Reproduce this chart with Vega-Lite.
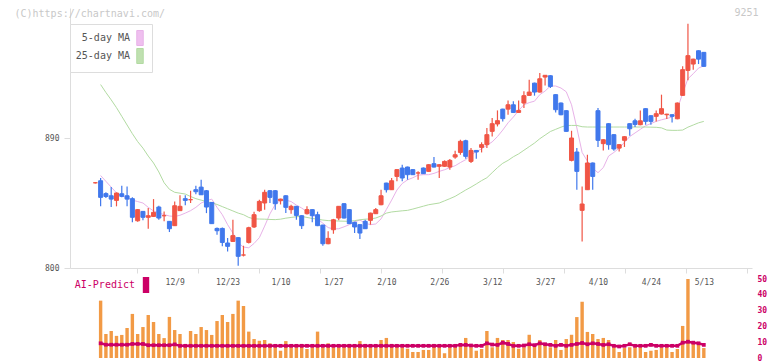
{
"$schema": "https://vega.github.io/schema/vega-lite/v6.json",
"width": 682, "height": 361,
"autosize": {"type": "none"},
"padding": {"left": 70, "top": 0, "right": 20, "bottom": 0},
"background": "#ffffff",
"config": {
  "view": {"stroke": null},
  "font": "DejaVu Sans Mono",
  "axis": {"labelFont": "DejaVu Sans Mono", "titleFont": "DejaVu Sans Mono", "grid": false},
  "legend": {"labelFont": "DejaVu Sans Mono", "titleFont": "DejaVu Sans Mono"}
},
"data": {"values": [
{"i":-1,"d":"11/18","o":859,"h":859.5,"l":858.5,"c":859},
{"i":0,"d":"11/19","o":860.4,"h":862.3,"l":842.7,"c":848.9,"ma5":864,"ma25":927,"v":36.3,"ai":9.3},
{"i":1,"d":"11/20","o":851.5,"h":852.5,"l":848.5,"c":849.5,"ma5":860,"ma25":921.5,"v":15.2,"ai":8.4},
{"i":2,"d":"11/21","o":850,"h":856.1,"l":842.2,"c":847.7,"ma5":856,"ma25":916.4,"v":17.1,"ai":8.4},
{"i":3,"d":"11/22","o":846.8,"h":852.3,"l":842.7,"c":851.9,"ma5":852,"ma25":911,"v":14,"ai":8.4},
{"i":4,"d":"11/25","o":851.4,"h":857,"l":849,"c":849.6,"ma5":850,"ma25":905,"v":14.6,"ai":8.4},
{"i":5,"d":"11/26","o":850,"h":856.5,"l":842.7,"c":847.7,"ma5":848.5,"ma25":899,"v":19,"ai":8.4},
{"i":6,"d":"11/27","o":848,"h":849,"l":831.6,"c":835.1,"ma5":847,"ma25":893,"v":27.9,"ai":8.9},
{"i":7,"d":"11/28","o":832.7,"h":840.8,"l":832,"c":840.4,"ma5":846,"ma25":887.5,"v":15.2,"ai":8.9},
{"i":8,"d":"11/29","o":839.2,"h":839.5,"l":833,"c":835.1,"ma5":845,"ma25":883,"v":19.6,"ai":8.9},
{"i":9,"d":"12/2","o":835.1,"h":841.5,"l":827.2,"c":836.2,"ma5":842,"ma25":877.5,"v":27.2,"ai":8.1},
{"i":10,"d":"12/3","o":835.7,"h":847.7,"l":835.5,"c":838.5,"ma5":839.5,"ma25":872.7,"v":22.8,"ai":8.1},
{"i":11,"d":"12/4","o":842.2,"h":843.1,"l":833.4,"c":834.6,"ma5":838,"ma25":866.5,"v":15.2,"ai":8.1},
{"i":12,"d":"12/5","o":836.2,"h":839.2,"l":832.3,"c":836.2,"ma5":837,"ma25":859,"v":12.6,"ai":8.1},
{"i":13,"d":"12/6","o":832.3,"h":832.5,"l":824.9,"c":827.2,"ma5":836,"ma25":854.5,"v":26,"ai":8.1},
{"i":14,"d":"12/9","o":829.3,"h":846.1,"l":829,"c":843.1,"ma5":835.7,"ma25":852.4,"v":17.7,"ai":8.6},
{"i":15,"d":"12/10","o":839.7,"h":850.3,"l":839.5,"c":842.7,"ma5":836.5,"ma25":851.8,"v":15.2,"ai":7.7},
{"i":16,"d":"12/11","o":848,"h":850.3,"l":843.4,"c":846.8,"ma5":838,"ma25":851.2,"v":8.9,"ai":7.7},
{"i":17,"d":"12/12","o":847.3,"h":853.5,"l":845,"c":847.3,"ma5":839.7,"ma25":849.5,"v":17.1,"ai":7.7},
{"i":18,"d":"12/13","o":854.2,"h":857,"l":851,"c":852.8,"ma5":842,"ma25":848,"v":15.2,"ai":7.7},
{"i":19,"d":"12/16","o":856,"h":861.1,"l":850.5,"c":850.7,"ma5":845,"ma25":847,"v":19.6,"ai":7.7},
{"i":20,"d":"12/17","o":853.5,"h":854,"l":838,"c":842.2,"ma5":846.5,"ma25":846,"v":17.7,"ai":7.7},
{"i":21,"d":"12/18","o":845.4,"h":845.5,"l":830.5,"c":830.7,"ma5":847.7,"ma25":845.2,"v":14.6,"ai":7.7},
{"i":22,"d":"12/19","o":827.4,"h":828,"l":823,"c":825.8,"ma5":842,"ma25":844,"v":23.4,"ai":7.7},
{"i":23,"d":"12/20","o":827.4,"h":828,"l":815,"c":817.7,"ma5":836.9,"ma25":842.5,"v":27.2,"ai":7.7},
{"i":24,"d":"12/23","o":817.3,"h":820.7,"l":811.5,"c":815,"ma5":830,"ma25":841,"v":22.8,"ai":7.7},
{"i":25,"d":"12/24","o":818.4,"h":833.4,"l":818,"c":822.4,"ma5":824.2,"ma25":839.5,"v":27.9,"ai":7.7},
{"i":26,"d":"12/25","o":821,"h":821.5,"l":801.6,"c":808.1,"ma5":817.3,"ma25":838,"v":36.3,"ai":7.7},
{"i":27,"d":"12/26","o":809,"h":815.4,"l":808,"c":809,"ma5":814.5,"ma25":836.9,"v":32.9,"ai":7.7},
{"i":28,"d":"12/27","o":817.7,"h":828.5,"l":817,"c":827.9,"ma5":814,"ma25":835,"v":16.7,"ai":7.7},
{"i":29,"d":"12/30","o":828.4,"h":838.9,"l":827.7,"c":836.9,"ma5":817,"ma25":834,"v":12,"ai":7.7},
{"i":30,"d":"1/6","o":839.7,"h":847.3,"l":839,"c":846.1,"ma5":821,"ma25":833.9,"v":10.9,"ai":7.7},
{"i":31,"d":"1/7","o":845,"h":854.2,"l":840.4,"c":852.4,"ma5":829,"ma25":833.8,"v":11.4,"ai":7.7},
{"i":32,"d":"1/8","o":853.5,"h":854,"l":845,"c":848.9,"ma5":837.5,"ma25":833.6,"v":9.3,"ai":7.7},
{"i":33,"d":"1/9","o":853.5,"h":854,"l":840.4,"c":844.5,"ma5":844,"ma25":833.5,"v":6.8,"ai":7.7},
{"i":34,"d":"1/10","o":846.6,"h":848,"l":844,"c":847.7,"ma5":846.8,"ma25":833.8,"v":4.6,"ai":7.7},
{"i":35,"d":"1/14","o":850,"h":850.3,"l":838,"c":842,"ma5":847,"ma25":834.5,"v":10.7,"ai":7.7},
{"i":36,"d":"1/15","o":840.4,"h":843.8,"l":837.6,"c":842.7,"ma5":846,"ma25":835,"v":6.8,"ai":7.7},
{"i":37,"d":"1/16","o":842.7,"h":843,"l":833.4,"c":836.4,"ma5":843.5,"ma25":835.5,"v":6.8,"ai":7.7},
{"i":38,"d":"1/17","o":836.2,"h":836.5,"l":827,"c":829.3,"ma5":841.5,"ma25":835.7,"v":8.9,"ai":7.7},
{"i":39,"d":"1/20","o":837.6,"h":842.7,"l":837,"c":840.4,"ma5":839,"ma25":835,"v":5.7,"ai":7.7},
{"i":40,"d":"1/21","o":840.4,"h":840.7,"l":831.6,"c":836.2,"ma5":837.5,"ma25":834.3,"v":6.8,"ai":7.7},
{"i":41,"d":"1/22","o":836.9,"h":839,"l":829,"c":829.3,"ma5":834,"ma25":833.8,"v":16.7,"ai":7.7},
{"i":42,"d":"1/23","o":829.7,"h":830,"l":815.4,"c":816.8,"ma5":831,"ma25":833.2,"v":6.8,"ai":7.7},
{"i":43,"d":"1/24","o":816.8,"h":825.4,"l":816.5,"c":820.5,"ma5":828,"ma25":832.8,"v":9.3,"ai":7.7},
{"i":44,"d":"1/27","o":826.5,"h":834,"l":823.7,"c":833.4,"ma5":827,"ma25":832.7,"v":6.8,"ai":7.7},
{"i":45,"d":"1/28","o":834.6,"h":843,"l":833,"c":842.7,"ma5":827.2,"ma25":832.5,"v":6.8,"ai":7.7},
{"i":46,"d":"1/29","o":844.5,"h":844.8,"l":834.3,"c":834.6,"ma5":828.5,"ma25":832.4,"v":6.8,"ai":7.7},
{"i":47,"d":"1/30","o":840.4,"h":840.7,"l":830.5,"c":830.7,"ma5":830,"ma25":832.3,"v":8.9,"ai":7.7},
{"i":48,"d":"1/31","o":831.6,"h":832,"l":824.2,"c":828.4,"ma5":832,"ma25":832.8,"v":6.8,"ai":7.7},
{"i":49,"d":"2/3","o":830,"h":830.3,"l":820,"c":824.2,"ma5":833.2,"ma25":833.4,"v":10.7,"ai":7.7},
{"i":50,"d":"2/4","o":832.3,"h":833.4,"l":827,"c":827.2,"ma5":831,"ma25":833.8,"v":8.9,"ai":7.7},
{"i":51,"d":"2/5","o":833,"h":838.3,"l":830,"c":838,"ma5":830,"ma25":834,"v":6.8,"ai":7.7},
{"i":52,"d":"2/6","o":837.6,"h":841.5,"l":837.3,"c":840.4,"ma5":830.5,"ma25":834.6,"v":6.8,"ai":7.7},
{"i":53,"d":"2/7","o":843.8,"h":854.2,"l":843.5,"c":850,"ma5":834,"ma25":836,"v":11.4,"ai":7.7},
{"i":54,"d":"2/10","o":858.8,"h":859,"l":852.3,"c":854.2,"ma5":840.5,"ma25":838,"v":12.7,"ai":7.7},
{"i":55,"d":"2/12","o":854.2,"h":862.3,"l":854,"c":860.4,"ma5":847,"ma25":838.8,"v":8.9,"ai":7.7},
{"i":56,"d":"2/13","o":863.4,"h":868.4,"l":860,"c":868.1,"ma5":854,"ma25":839.2,"v":6.8,"ai":7.7},
{"i":57,"d":"2/14","o":869.2,"h":871.5,"l":860,"c":862.3,"ma5":858.5,"ma25":839.6,"v":6.8,"ai":7.7},
{"i":58,"d":"2/17","o":869.9,"h":870.2,"l":861.1,"c":864.6,"ma5":861,"ma25":839.9,"v":5.9,"ai":7.7},
{"i":59,"d":"2/18","o":868.1,"h":868.4,"l":864.3,"c":864.6,"ma5":862.5,"ma25":840.8,"v":3.8,"ai":7.7},
{"i":60,"d":"2/19","o":865.8,"h":866.9,"l":861.1,"c":865.8,"ma5":864.3,"ma25":841.8,"v":3.8,"ai":7.7},
{"i":61,"d":"2/20","o":869.2,"h":869.5,"l":865,"c":865.3,"ma5":864.6,"ma25":842.8,"v":5.1,"ai":7.7},
{"i":62,"d":"2/21","o":866.9,"h":871.8,"l":866.6,"c":871.5,"ma5":864.6,"ma25":843.8,"v":5.1,"ai":7.7},
{"i":63,"d":"2/25","o":872.2,"h":876.8,"l":869.6,"c":869.9,"ma5":865.5,"ma25":844.4,"v":8.9,"ai":7.7},
{"i":64,"d":"2/26","o":870.4,"h":871.8,"l":862.3,"c":871.5,"ma5":866.9,"ma25":845,"v":6.8,"ai":7.7},
{"i":65,"d":"2/27","o":870.4,"h":874.5,"l":870,"c":873.8,"ma5":868,"ma25":846.5,"v":3,"ai":7.7},
{"i":66,"d":"2/28","o":869.9,"h":875.4,"l":868,"c":874.5,"ma5":869.5,"ma25":848,"v":6.8,"ai":7.7},
{"i":67,"d":"3/3","o":876.8,"h":881.2,"l":875.7,"c":878.4,"ma5":870.8,"ma25":849.6,"v":6.8,"ai":7.7},
{"i":68,"d":"3/4","o":880,"h":888.8,"l":878.4,"c":887.7,"ma5":873,"ma25":851.8,"v":9.3,"ai":8.3},
{"i":69,"d":"3/5","o":888.1,"h":888.8,"l":875.7,"c":877.3,"ma5":875,"ma25":854,"v":12.7,"ai":8.3},
{"i":70,"d":"3/6","o":873.8,"h":883,"l":872.7,"c":881.4,"ma5":878.5,"ma25":856,"v":6.8,"ai":7.9},
{"i":71,"d":"3/7","o":881.4,"h":881.7,"l":875.7,"c":880.3,"ma5":880.5,"ma25":858.2,"v":4.6,"ai":7.7},
{"i":72,"d":"3/10","o":883.5,"h":887,"l":880,"c":885.4,"ma5":882.5,"ma25":860.5,"v":5.7,"ai":7.7},
{"i":73,"d":"3/11","o":885.4,"h":896.9,"l":883,"c":892.3,"ma5":885,"ma25":862.5,"v":17.1,"ai":9.3},
{"i":74,"d":"3/12","o":894.6,"h":903.8,"l":891.1,"c":899.9,"ma5":887.3,"ma25":866,"v":6.8,"ai":8.5},
{"i":75,"d":"3/13","o":899.7,"h":909.1,"l":898,"c":902,"ma5":891,"ma25":869.5,"v":12.7,"ai":8.3},
{"i":76,"d":"3/14","o":910,"h":910.3,"l":901.5,"c":903.4,"ma5":895.5,"ma25":872.5,"v":11.4,"ai":9.7},
{"i":77,"d":"3/17","o":910,"h":916,"l":906.1,"c":913,"ma5":900.5,"ma25":874.5,"v":11.4,"ai":8.9},
{"i":78,"d":"3/18","o":913,"h":915.4,"l":907.4,"c":907.7,"ma5":904.5,"ma25":877,"v":10.1,"ai":7.7},
{"i":79,"d":"3/19","o":907.7,"h":916,"l":907.4,"c":909.1,"ma5":909,"ma25":879,"v":5.9,"ai":7.7},
{"i":80,"d":"3/21","o":914.2,"h":922.3,"l":910.7,"c":919.3,"ma5":913,"ma25":881.5,"v":6.8,"ai":7.9},
{"i":81,"d":"3/24","o":919.5,"h":930.4,"l":919.2,"c":921.8,"ma5":914.5,"ma25":884,"v":14.7,"ai":8.7},
{"i":82,"d":"3/25","o":928,"h":928.3,"l":919.3,"c":921.8,"ma5":915.5,"ma25":886.5,"v":7.6,"ai":8.1},
{"i":83,"d":"3/26","o":921.8,"h":935,"l":921.5,"c":931,"ma5":920,"ma25":889.5,"v":11.4,"ai":9.3},
{"i":84,"d":"3/27","o":932.2,"h":933.7,"l":926.4,"c":933.4,"ma5":922.5,"ma25":892,"v":9.3,"ai":8.7},
{"i":85,"d":"3/28","o":933.1,"h":933.4,"l":924.6,"c":925.7,"ma5":926,"ma25":894.5,"v":6.8,"ai":8.3},
{"i":86,"d":"3/31","o":920,"h":920.3,"l":907.7,"c":909.6,"ma5":926,"ma25":896,"v":11.4,"ai":7.7},
{"i":87,"d":"4/1","o":914.2,"h":914.5,"l":905.8,"c":906.1,"ma5":924.6,"ma25":897.5,"v":5.1,"ai":8.3},
{"i":88,"d":"4/2","o":908.9,"h":909.2,"l":894.3,"c":894.6,"ma5":922,"ma25":898.7,"v":12,"ai":7.7},
{"i":89,"d":"4/3","o":874.5,"h":895,"l":873.8,"c":890,"ma5":913,"ma25":898.7,"v":14.7,"ai":8.3},
{"i":90,"d":"4/4","o":880.3,"h":883,"l":854.2,"c":866.9,"ma5":897,"ma25":898.7,"v":25.9,"ai":8.9},
{"i":91,"d":"4/7","o":839.9,"h":856.5,"l":818.4,"c":844.3,"ma5":880,"ma25":897.8,"v":35.6,"ai":9.5},
{"i":92,"d":"4/8","o":854.2,"h":878.4,"l":854,"c":872.7,"ma5":874,"ma25":897.6,"v":16.5,"ai":8.7},
{"i":93,"d":"4/9","o":872.7,"h":873,"l":854.2,"c":863.4,"ma5":869,"ma25":897.6,"v":15.2,"ai":9.3},
{"i":94,"d":"4/10","o":908.9,"h":910.7,"l":883.7,"c":888.4,"ma5":866,"ma25":897.6,"v":12,"ai":8.9},
{"i":95,"d":"4/11","o":886.1,"h":889.1,"l":881.4,"c":888.8,"ma5":869.5,"ma25":897.6,"v":12.7,"ai":8.3},
{"i":96,"d":"4/14","o":899.9,"h":900.2,"l":881.9,"c":885.4,"ma5":877.5,"ma25":897.6,"v":11.4,"ai":8.7},
{"i":97,"d":"4/15","o":892.3,"h":892.6,"l":881.2,"c":882.4,"ma5":880,"ma25":897.6,"v":6.8,"ai":7.7},
{"i":98,"d":"4/16","o":883,"h":885.7,"l":880.7,"c":885.4,"ma5":883,"ma25":897.6,"v":3.8,"ai":7.3},
{"i":99,"d":"4/17","o":888.4,"h":891.2,"l":883.8,"c":890.9,"ma5":887,"ma25":897.6,"v":6.3,"ai":7.7},
{"i":100,"d":"4/18","o":899.9,"h":900.2,"l":891.6,"c":896.4,"ma5":891,"ma25":897.6,"v":6.8,"ai":8.7},
{"i":101,"d":"4/21","o":901.9,"h":903.4,"l":897.6,"c":899.4,"ma5":893.5,"ma25":897.6,"v":6.8,"ai":7.7},
{"i":102,"d":"4/22","o":899.2,"h":909.1,"l":898.9,"c":901.9,"ma5":896,"ma25":897.6,"v":6.8,"ai":7.7},
{"i":103,"d":"4/23","o":910.3,"h":910.6,"l":899.2,"c":901.5,"ma5":898.5,"ma25":897.6,"v":3.8,"ai":7.7},
{"i":104,"d":"4/24","o":905.4,"h":905.7,"l":899.2,"c":901.5,"ma5":900,"ma25":897.5,"v":4.6,"ai":8.3},
{"i":105,"d":"4/25","o":905,"h":909.1,"l":901.5,"c":906.8,"ma5":901.5,"ma25":897.4,"v":5.1,"ai":7.7},
{"i":106,"d":"4/28","o":906.6,"h":920,"l":906.3,"c":910.3,"ma5":902.6,"ma25":897,"v":6.8,"ai":7.7},
{"i":107,"d":"4/30","o":906.1,"h":906.8,"l":903.1,"c":906.5,"ma5":903.5,"ma25":895.5,"v":6.8,"ai":7.7},
{"i":108,"d":"5/1","o":906.1,"h":906.4,"l":900.8,"c":905,"ma5":904.5,"ma25":895.3,"v":3.8,"ai":7.7},
{"i":109,"d":"5/2","o":903.3,"h":914.5,"l":903,"c":914.2,"ma5":910,"ma25":895.3,"v":5.7,"ai":7.7},
{"i":110,"d":"5/7","o":919.5,"h":939.6,"l":919.2,"c":937.3,"ma5":921,"ma25":895.5,"v":20.3,"ai":9.7},
{"i":111,"d":"5/8","o":936.8,"h":969.1,"l":929.9,"c":947,"ma5":931,"ma25":897.5,"v":50,"ai":10.3},
{"i":112,"d":"5/9","o":941.2,"h":944.9,"l":937.3,"c":944.6,"ma5":934.5,"ma25":899,"v":10.5,"ai":9.7},
{"i":113,"d":"5/12","o":950.4,"h":950.7,"l":941.2,"c":944.6,"ma5":938.4,"ma25":900.5,"v":9.3,"ai":9.3},
{"i":114,"d":"5/13","o":949.3,"h":949.6,"l":939.3,"c":939.6,"ma5":940,"ma25":901.5,"v":6.3,"ai":8.3}
]},
"layer": [
 {
  "encoding": {"x": {"field": "i", "type": "quantitative",
     "scale": {"domain": [-4.842, 122.16], "nice": false, "zero": false},
     "axis": {"orient": "bottom", "offset": -93, "values": [6.797, 18.343, 29.889, 41.435, 52.981, 64.527, 76.073, 87.619, 99.165, 110.711, 122.16],
              "labels": false, "title": null, "domainColor": "#dddddd", "tickColor": "#dddddd", "tickSize": 5, "grid": false}}},
  "layer": [
   {"transform": [{"fold": ["ma5", "ma25"], "as": ["k", "val"]}],
    "mark": {"type": "line", "strokeWidth": 1},
    "encoding": {
      "y": {"field": "val", "type": "quantitative",
            "scale": {"domain": [800, 980], "range": [268, 8], "nice": false, "zero": false},
            "axis": {"orient": "left", "values": [800, 890], "domainColor": "#dddddd", "tickColor": "#dddddd", "tickSize": 6,
                     "labelPadding": 5, "labelFontSize": 8, "labelColor": "#555555", "grid": false,
                     "title": "(C)https://chartnavi.com/", "titleAngle": 0, "titleX": -56, "titleY": 13,
                     "titleAlign": "left", "titleBaseline": "middle", "titleColor": "#c8c8c8", "titleFontSize": 10, "titleFontWeight": "normal"}},
      "stroke": {"field": "k", "type": "nominal",
                 "scale": {"domain": ["ma5", "ma25"], "range": ["#e8b2e8", "#b2dba2"]},
                 "legend": {"title": null, "orient": "none", "legendX": 0, "legendY": 24, "direction": "vertical",
                            "padding": 6, "strokeColor": "#dddddd", "fillColor": "#ffffff",
                            "labelExpr": "datum.value == 'ma5' ? '5-day MA' : '25-day MA'",
                            "labelAlign": "right", "labelFontSize": 10, "labelColor": "#555555",
                            "labelOffset": -18, "symbolOffset": 56,
                            "symbolType": "M-0.43,-1H0.43V1H-0.43Z", "symbolSize": 225, "rowPadding": -3,
                            "encode": {"symbols": {"update": {"fill": [{"test": "datum.value == 'ma5'", "value": "#efbfef"}, {"value": "#bfe0b0"}],
                                                              "strokeWidth": {"value": 1}, "opacity": {"value": 1}}}}}}
    }},
   {"mark": {"type": "rule", "strokeWidth": 1.2},
    "encoding": {
      "y": {"field": "l", "type": "quantitative",
            "scale": {"domain": [800, 980], "range": [268, 8], "nice": false, "zero": false},
            "axis": {"orient": "left", "values": [800, 890], "domainColor": "#dddddd", "tickColor": "#dddddd", "tickSize": 6,
                     "labelPadding": 5, "labelFontSize": 8, "labelColor": "#555555", "grid": false,
                     "title": "(C)https://chartnavi.com/", "titleAngle": 0, "titleX": -56, "titleY": 13,
                     "titleAlign": "left", "titleBaseline": "middle", "titleColor": "#c8c8c8", "titleFontSize": 10, "titleFontWeight": "normal"}},
      "y2": {"field": "h"},
      "color": {"condition": {"test": "datum.c >= datum.o", "value": "#f05545"}, "value": "#4078ec"}
    }},
   {"mark": {"type": "bar", "width": 4, "strokeWidth": 1},
    "encoding": {
      "y": {"field": "o", "type": "quantitative",
            "scale": {"domain": [800, 980], "range": [268, 8], "nice": false, "zero": false},
            "axis": {"orient": "left", "values": [800, 890], "domainColor": "#dddddd", "tickColor": "#dddddd", "tickSize": 6,
                     "labelPadding": 5, "labelFontSize": 8, "labelColor": "#555555", "grid": false,
                     "title": "(C)https://chartnavi.com/", "titleAngle": 0, "titleX": -56, "titleY": 13,
                     "titleAlign": "left", "titleBaseline": "middle", "titleColor": "#c8c8c8", "titleFontSize": 10, "titleFontWeight": "normal"}},
      "y2": {"field": "c"},
      "color": {"condition": {"test": "datum.c >= datum.o", "value": "#f05545"}, "value": "#4078ec"},
      "stroke": {"condition": {"test": "datum.c >= datum.o", "value": "#f05545"}, "value": "#4078ec"}
    }}
  ]
 },
 {
  "encoding": {"x": {"field": "i", "type": "quantitative",
     "scale": {"domain": [-4.842, 122.16], "nice": false, "zero": false},
     "axis": {"orient": "bottom", "offset": -93, "values": [14, 24, 34, 44, 54, 64, 74, 84, 94, 104, 114],
              "labelExpr": "['12/9','12/23','1/10','1/27','2/10','2/26','3/12','3/27','4/10','4/24','5/13'][round((datum.value-14)/10)]",
              "ticks": false, "tickSize": 0, "domain": false, "labelPadding": 10, "labelFontSize": 8, "labelColor": "#555555",
              "labelFlush": false, "labelOverlap": false, "title": null, "grid": false}}},
  "layer": [
   {"mark": {"type": "bar", "width": 3.4, "color": "#f29a45", "orient": "vertical"},
    "encoding": {
      "y": {"field": "v", "type": "quantitative",
            "scale": {"domain": [0, 50], "range": [358, 279], "nice": false},
            "axis": {"orient": "right", "values": [0, 10, 20, 30, 40, 50], "domain": false, "ticks": false, "tickSize": 0,
                     "labelPadding": 5, "labelColor": "#cc0066", "labelFontSize": 8, "labelFontWeight": "bold", "grid": false,
                     "labelFlush": false, "labelOverlap": false,
                     "title": "9251", "titleAngle": 0, "titleX": -18, "titleY": 12, "titleAlign": "left", "titleBaseline": "middle",
                     "titleColor": "#c8c8c8", "titleFontSize": 10, "titleFontWeight": "normal"}}
    }},
   {"mark": {"type": "line", "strokeWidth": 2.5, "point": {"shape": "square", "size": 14, "filled": true}},
    "encoding": {
      "y": {"field": "ai", "type": "quantitative",
            "scale": {"domain": [0, 50], "range": [358, 279], "nice": false},
            "axis": {"orient": "right", "values": [0, 10, 20, 30, 40, 50], "domain": false, "ticks": false, "tickSize": 0,
                     "labelPadding": 5, "labelColor": "#cc0066", "labelFontSize": 8, "labelFontWeight": "bold", "grid": false,
                     "labelFlush": false, "labelOverlap": false,
                     "title": "9251", "titleAngle": 0, "titleX": -18, "titleY": 12, "titleAlign": "left", "titleBaseline": "middle",
                     "titleColor": "#c8c8c8", "titleFontSize": 10, "titleFontWeight": "normal"}},
      "color": {"datum": "AI-Predict", "type": "nominal", "scale": {"domain": ["AI-Predict"], "range": ["#cc0066"]},
                "legend": {"title": null, "orient": "none", "legendX": 6, "legendY": 277, "padding": 0,
                           "labelAlign": "right", "labelColor": "#cc0066", "labelFontSize": 10,
                           "labelOffset": -19, "symbolOffset": 62,
                           "symbolType": "M-0.4,-1H0.4V1H-0.4Z", "symbolSize": 256,
                           "encode": {"symbols": {"update": {"fill": {"value": "#cc0066"}, "strokeWidth": {"value": 0}, "opacity": {"value": 1}}}}}}
    }}
  ]
 }
],
"resolve": {"scale": {"y": "independent", "stroke": "independent", "color": "independent"}, "axis": {"x": "independent"}}
}
